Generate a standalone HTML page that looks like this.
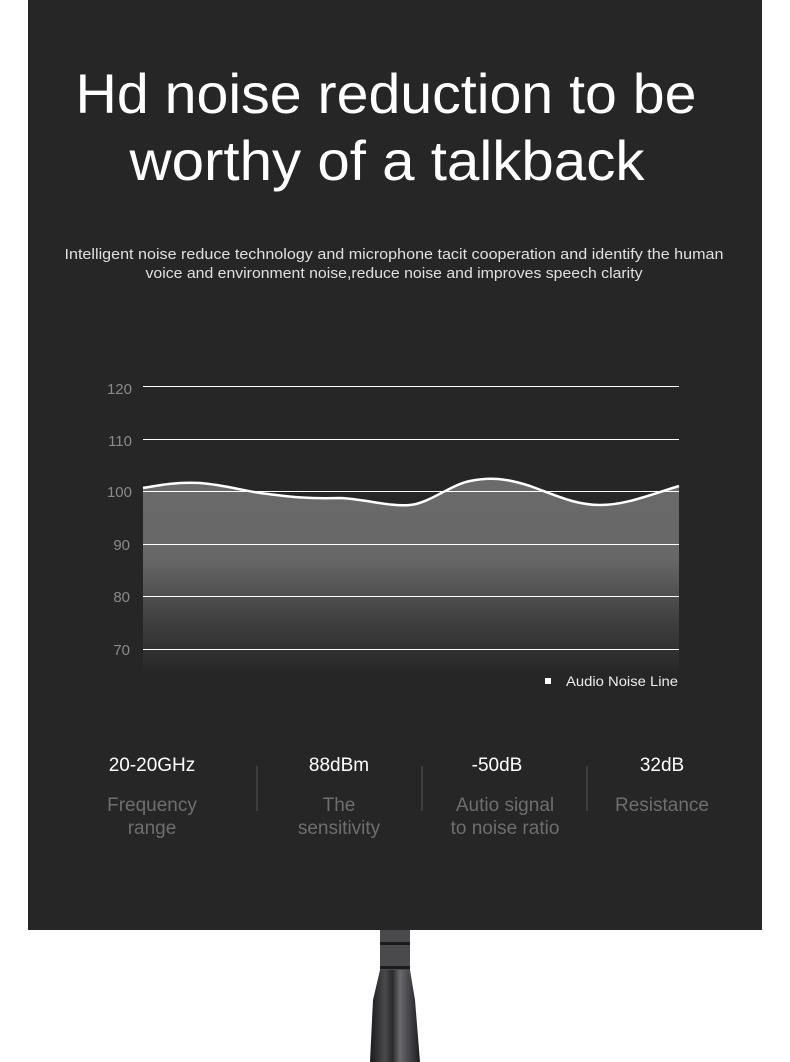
<!DOCTYPE html>
<html><head><meta charset="utf-8"><style>
html,body{margin:0;padding:0;background:#fff;}
svg{display:block;}
text{font-family:"Liberation Sans",sans-serif;}
</style></head><body>
<svg width="790" height="1062" viewBox="0 0 790 1062" xmlns="http://www.w3.org/2000/svg">
<defs>
<linearGradient id="fg" gradientUnits="userSpaceOnUse" x1="0" y1="480" x2="0" y2="670">
<stop offset="0" stop-color="#6a6a6a"/>
<stop offset="0.42" stop-color="#676767"/>
<stop offset="0.75" stop-color="#3e3e3e"/>
<stop offset="1" stop-color="#282828"/>
</linearGradient>
<linearGradient id="ant" x1="0" y1="0" x2="1" y2="0">
<stop offset="0" stop-color="#1a1a1c"/>
<stop offset="0.3" stop-color="#4a4a4e"/>
<stop offset="0.45" stop-color="#2a2a2c"/>
<stop offset="0.6" stop-color="#6a6a6e"/>
<stop offset="1" stop-color="#1c1c1e"/>
</linearGradient>
</defs>
<rect x="0" y="0" width="790" height="1062" fill="#fff"/>
<rect x="28" y="0" width="734" height="930" fill="#262626"/>
<!-- antenna -->
<rect x="380" y="930" width="30" height="40" fill="#4a4a4c"/>
<rect x="380" y="942" width="30" height="3" fill="#1c1c1c"/>
<rect x="380" y="966" width="30" height="3" fill="#1c1c1c"/>
<path d="M380 970 L410 970 L415 1000 L420 1062 L370 1062 L373 1000 Z" fill="url(#ant)"/>

<text x="386" y="113" fill="#fff" font-size="56" text-anchor="middle" textLength="621" lengthAdjust="spacingAndGlyphs">Hd noise reduction to be</text>
<text x="387" y="180" fill="#fff" font-size="56" text-anchor="middle" textLength="515" lengthAdjust="spacingAndGlyphs">worthy of a talkback</text>
<text x="394" y="259" fill="#e0e0e0" font-size="15" text-anchor="middle" textLength="659" lengthAdjust="spacingAndGlyphs">Intelligent noise reduce technology and microphone tacit cooperation and identify the human</text>
<text x="394" y="278" fill="#e0e0e0" font-size="15" text-anchor="middle" textLength="497" lengthAdjust="spacingAndGlyphs">voice and environment noise,reduce noise and improves speech clarity</text>

<!-- chart fill -->
<path d="M143 488 C160 485,175 482,200 483 C225 485,240 490,260 493 C290 497,310 499,340 498 C365 499,390 507,410 505 C430 503,450 485,470 481 C490 477,505 478,530 486 C555 495,575 505,600 505 C625 505,650 495,679 486 L679 670 L143 670 Z" fill="url(#fg)"/>
<g stroke="#fff" stroke-width="1">
<line x1="143" y1="386.5" x2="679" y2="386.5"/>
<line x1="143" y1="439.5" x2="679" y2="439.5"/>
<line x1="143" y1="491.5" x2="679" y2="491.5"/>
<line x1="143" y1="544.5" x2="679" y2="544.5"/>
<line x1="143" y1="596.5" x2="679" y2="596.5"/>
<line x1="143" y1="649.5" x2="679" y2="649.5"/>
</g>
<path d="M143 488 C160 485,175 482,200 483 C225 485,240 490,260 493 C290 497,310 499,340 498 C365 499,390 507,410 505 C430 503,450 485,470 481 C490 477,505 478,530 486 C555 495,575 505,600 505 C625 505,650 495,679 486" fill="none" stroke="#fff" stroke-width="2.5"/>
<g fill="#8a8a8a" font-size="15" text-anchor="end">
<text x="132" y="394">120</text>
<text x="132" y="446">110</text>
<text x="132" y="497">100</text>
<text x="130" y="550">90</text>
<text x="130" y="602">80</text>
<text x="130" y="655">70</text>
</g>
<rect x="545" y="678" width="6" height="6" fill="#fff"/>
<text x="566" y="686" fill="#eee" font-size="14" textLength="112" lengthAdjust="spacingAndGlyphs">Audio Noise Line</text>

<g fill="#fff" font-size="19" text-anchor="middle">
<text x="152" y="771">20-20GHz</text>
<text x="339" y="771">88dBm</text>
<text x="497" y="771">-50dB</text>
<text x="662" y="771">32dB</text>
</g>
<g fill="#6e6e6e" font-size="19" text-anchor="middle">
<text x="152" y="811">Frequency</text>
<text x="152" y="834">range</text>
<text x="339" y="811">The</text>
<text x="339" y="834">sensitivity</text>
<text x="505" y="811">Autio signal</text>
<text x="505" y="834">to noise ratio</text>
<text x="662" y="811">Resistance</text>
</g>
<g stroke="#555" stroke-width="1">
<line x1="257" y1="766" x2="257" y2="811"/>
<line x1="422" y1="766" x2="422" y2="811"/>
<line x1="587" y1="766" x2="587" y2="811"/>
</g>
</svg>
</body></html>
